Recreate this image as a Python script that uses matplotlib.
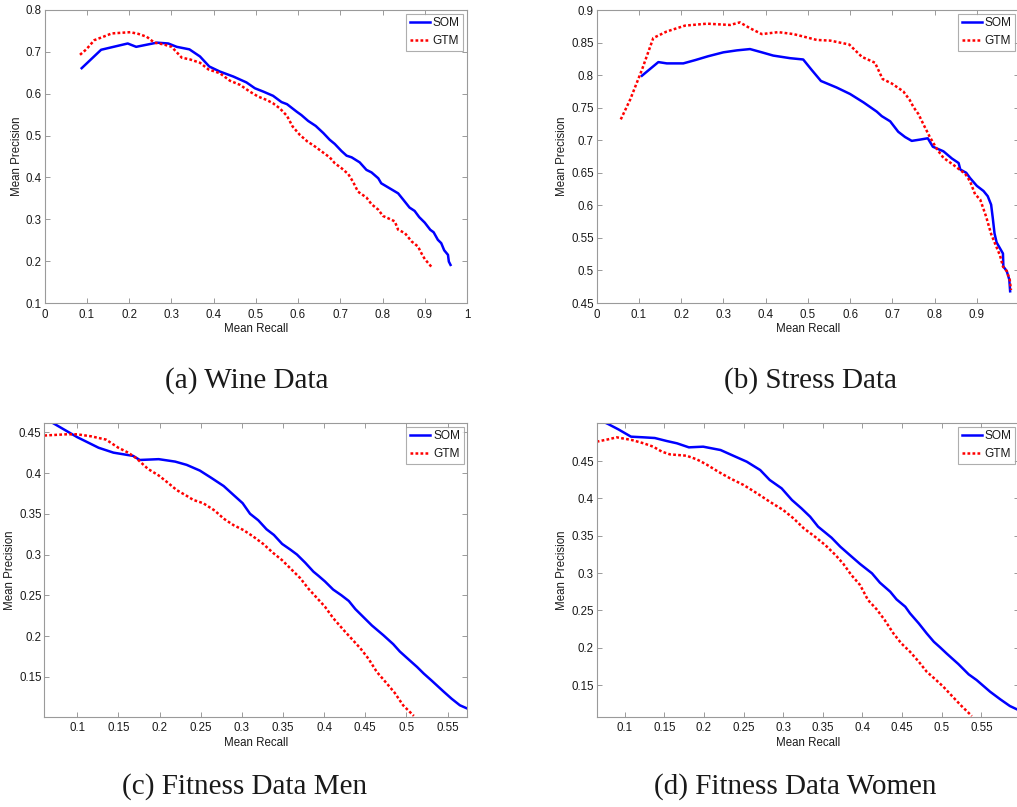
import matplotlib
matplotlib.use("Agg")
import matplotlib.pyplot as plt
from matplotlib.ticker import FuncFormatter
import numpy as np

# ---------------- data ----------------
# (a) Wine Data
wine_som_recall = [0.088, 0.134, 0.197, 0.217, 0.266, 0.293, 0.313, 0.343, 0.368, 0.390, 0.415, 0.447,
                   0.478, 0.498, 0.518, 0.541, 0.561, 0.574, 0.597, 0.608, 0.624, 0.642, 0.660, 0.675,
                   0.687, 0.703, 0.715, 0.727, 0.746, 0.762, 0.774, 0.790, 0.797, 0.817, 0.837, 0.849,
                   0.864, 0.876, 0.887, 0.900, 0.913, 0.921, 0.931, 0.939, 0.946, 0.955, 0.957, 0.961]
wine_som_prec = [0.661, 0.705, 0.720, 0.712, 0.722, 0.720, 0.712, 0.706, 0.689, 0.665, 0.653, 0.641,
                 0.627, 0.613, 0.605, 0.595, 0.580, 0.575, 0.557, 0.549, 0.535, 0.523, 0.506, 0.490,
                 0.480, 0.463, 0.452, 0.448, 0.436, 0.418, 0.412, 0.398, 0.386, 0.374, 0.362, 0.347,
                 0.328, 0.320, 0.305, 0.292, 0.275, 0.269, 0.251, 0.243, 0.226, 0.215, 0.199, 0.191]
wine_gtm_recall = [0.084, 0.099, 0.118, 0.139, 0.159, 0.203, 0.222, 0.242, 0.260, 0.281, 0.301, 0.325,
                   0.344, 0.368, 0.388, 0.415, 0.439, 0.463, 0.486, 0.506, 0.526, 0.541, 0.557, 0.574,
                   0.587, 0.604, 0.622, 0.640, 0.656, 0.675, 0.687, 0.703, 0.719, 0.730, 0.742, 0.762,
                   0.774, 0.790, 0.801, 0.821, 0.829, 0.837, 0.853, 0.869, 0.884, 0.892, 0.900, 0.917]
wine_gtm_prec = [0.693, 0.706, 0.728, 0.736, 0.744, 0.747, 0.743, 0.736, 0.722, 0.718, 0.712, 0.686,
                 0.682, 0.674, 0.658, 0.649, 0.631, 0.621, 0.605, 0.593, 0.585, 0.577, 0.565, 0.547,
                 0.522, 0.502, 0.486, 0.474, 0.462, 0.448, 0.434, 0.422, 0.408, 0.390, 0.366, 0.352,
                 0.336, 0.323, 0.308, 0.299, 0.295, 0.275, 0.267, 0.247, 0.235, 0.219, 0.205, 0.185]

# (b) Stress Data
stress_som_recall = [0.107, 0.146, 0.166, 0.205, 0.233, 0.264, 0.300, 0.332, 0.363, 0.391, 0.418, 0.458,
                     0.489, 0.509, 0.531, 0.568, 0.600, 0.632, 0.663, 0.675, 0.695, 0.714, 0.730, 0.746,
                     0.766, 0.784, 0.796, 0.821, 0.841, 0.857, 0.861, 0.875, 0.884, 0.900, 0.916, 0.926,
                     0.934, 0.938, 0.942, 0.947, 0.962, 0.963, 0.971, 0.977, 0.979]
stress_som_prec = [0.799, 0.820, 0.818, 0.818, 0.823, 0.829, 0.835, 0.838, 0.840, 0.835, 0.830, 0.826,
                   0.824, 0.808, 0.791, 0.781, 0.771, 0.758, 0.744, 0.737, 0.729, 0.713, 0.705, 0.699,
                   0.701, 0.703, 0.690, 0.683, 0.672, 0.665, 0.655, 0.650, 0.642, 0.630, 0.622, 0.614,
                   0.601, 0.580, 0.557, 0.543, 0.526, 0.506, 0.499, 0.486, 0.468]
stress_gtm_recall = [0.057, 0.079, 0.107, 0.134, 0.166, 0.209, 0.261, 0.316, 0.339, 0.363, 0.391, 0.430,
                     0.466, 0.497, 0.521, 0.553, 0.598, 0.628, 0.659, 0.677, 0.699, 0.726, 0.741, 0.750,
                     0.762, 0.774, 0.788, 0.806, 0.821, 0.845, 0.865, 0.872, 0.884, 0.896, 0.908, 0.922,
                     0.934, 0.946, 0.955, 0.962, 0.971, 0.978, 0.981]
stress_gtm_prec = [0.732, 0.762, 0.808, 0.857, 0.867, 0.876, 0.879, 0.877, 0.881, 0.872, 0.863, 0.866,
                   0.863, 0.858, 0.854, 0.853, 0.847, 0.828, 0.819, 0.794, 0.787, 0.775, 0.762, 0.751,
                   0.740, 0.724, 0.706, 0.686, 0.673, 0.662, 0.652, 0.649, 0.637, 0.617, 0.609, 0.583,
                   0.556, 0.537, 0.523, 0.506, 0.499, 0.486, 0.470]

# (c) Fitness Data Men
men_som_recall = [0.060, 0.071, 0.100, 0.126, 0.144, 0.168, 0.176, 0.199, 0.219, 0.233, 0.249, 0.263,
                  0.278, 0.290, 0.301, 0.310, 0.320, 0.330, 0.339, 0.349, 0.359, 0.367, 0.377, 0.387,
                  0.393, 0.401, 0.411, 0.421, 0.430, 0.438, 0.448, 0.458, 0.472, 0.484, 0.492, 0.503,
                  0.513, 0.521, 0.531, 0.545, 0.555, 0.565, 0.574]
men_som_prec = [0.467, 0.461, 0.444, 0.431, 0.425, 0.421, 0.416, 0.417, 0.414, 0.410, 0.403, 0.394,
                0.384, 0.373, 0.363, 0.350, 0.342, 0.331, 0.324, 0.313, 0.306, 0.300, 0.290, 0.279,
                0.274, 0.267, 0.257, 0.250, 0.243, 0.233, 0.223, 0.213, 0.201, 0.190, 0.181, 0.171,
                0.162, 0.154, 0.145, 0.132, 0.123, 0.115, 0.111]
men_gtm_recall = [0.060, 0.087, 0.100, 0.117, 0.135, 0.150, 0.162, 0.172, 0.186, 0.199, 0.209, 0.221,
                  0.233, 0.241, 0.253, 0.267, 0.278, 0.290, 0.302, 0.314, 0.326, 0.338, 0.349, 0.359,
                  0.371, 0.381, 0.391, 0.401, 0.411, 0.424, 0.434, 0.444, 0.454, 0.464, 0.476, 0.486,
                  0.496, 0.509]
men_gtm_prec = [0.446, 0.4475, 0.4475, 0.445, 0.441, 0.431, 0.425, 0.418, 0.405, 0.397, 0.389, 0.379,
                0.372, 0.367, 0.363, 0.354, 0.344, 0.336, 0.330, 0.322, 0.313, 0.302, 0.293, 0.283,
                0.271, 0.258, 0.247, 0.236, 0.222, 0.207, 0.196, 0.185, 0.172, 0.156, 0.142, 0.130,
                0.115, 0.102]

# (d) Fitness Data Women
women_som_recall = [0.064, 0.079, 0.092, 0.108, 0.124, 0.138, 0.153, 0.166, 0.181, 0.199, 0.221, 0.237,
                    0.254, 0.271, 0.283, 0.298, 0.311, 0.323, 0.334, 0.344, 0.361, 0.372, 0.384, 0.397,
                    0.412, 0.422, 0.435, 0.443, 0.454, 0.460, 0.471, 0.481, 0.490, 0.498, 0.506, 0.513,
                    0.521, 0.534, 0.544, 0.561, 0.574, 0.586, 0.595]
women_som_prec = [0.507, 0.4996, 0.4924, 0.4826, 0.4817, 0.4808, 0.4768, 0.4737, 0.4683, 0.4692, 0.4647,
                  0.4571, 0.4491, 0.4379, 0.4246, 0.4134, 0.3978, 0.3866, 0.3754, 0.3621, 0.3473, 0.3353,
                  0.3241, 0.3121, 0.2996, 0.2871, 0.2750, 0.2647, 0.2549, 0.2460, 0.2326, 0.2192, 0.2080,
                  0.2004, 0.1924, 0.1857, 0.1781, 0.1643, 0.1567, 0.1411, 0.1308, 0.1219, 0.1174]
women_gtm_recall = [0.0647, 0.079, 0.090, 0.109, 0.124, 0.136, 0.147, 0.157, 0.178, 0.191, 0.203, 0.218,
                    0.233, 0.250, 0.267, 0.283, 0.300, 0.313, 0.326, 0.340, 0.353, 0.366, 0.376, 0.386,
                    0.397, 0.407, 0.418, 0.428, 0.439, 0.449, 0.460, 0.471, 0.481, 0.492, 0.502, 0.513,
                    0.525, 0.538]
women_gtm_prec = [0.4759, 0.479, 0.4817, 0.4781, 0.4737, 0.4692, 0.4625, 0.4589, 0.4571, 0.4522, 0.4455,
                  0.4357, 0.4268, 0.4179, 0.4067, 0.3955, 0.3844, 0.3732, 0.3598, 0.3487, 0.3375, 0.3241,
                  0.3121, 0.2973, 0.2839, 0.2638, 0.2513, 0.2371, 0.2192, 0.2058, 0.1946, 0.1813, 0.1679,
                  0.1576, 0.1478, 0.1353, 0.1219, 0.1085]

captions = ["(a) Wine Data", "(b) Stress Data", "(c) Fitness Data Men", "(d) Fitness Data Women"]
series_labels = ["SOM", "GTM"]

# ---------------- figure ----------------
W, H = 1017, 807
fig = plt.figure(figsize=(W / 100, H / 100), dpi=100)
plt.rcParams['font.family'] = ['Liberation Sans', 'DejaVu Sans']

def px_axes(left, right, top, bottom):
    return fig.add_axes([left / W, 1 - bottom / H, (right - left) / W, (bottom - top) / H])

panels = [
    dict(box=(44.5, 467, 10, 303), som=(wine_som_recall, wine_som_prec), gtm=(wine_gtm_recall, wine_gtm_prec),
         xlim=(0, 1), ylim=(0.1, 0.8), xticks=np.arange(0, 1.01, 0.1), yticks=np.arange(0.1, 0.81, 0.1),
         ylab_x=-0.065),
    dict(box=(596.7, 1019, 10, 303), som=(stress_som_recall, stress_som_prec), gtm=(stress_gtm_recall, stress_gtm_prec),
         xlim=(0, 1.0), ylim=(0.45, 0.9), xticks=np.arange(0, 0.91, 0.1), yticks=np.arange(0.45, 0.901, 0.05),
         ylab_x=-0.0815),
    dict(box=(44.3, 467.3, 423.3, 716.7), som=(men_som_recall, men_som_prec), gtm=(men_gtm_recall, men_gtm_prec),
         xlim=(0.06, 0.574), ylim=(0.101, 0.461), xticks=np.arange(0.1, 0.551, 0.05), yticks=np.arange(0.15, 0.451, 0.05),
         ylab_x=-0.080),
    dict(box=(596.7, 1019, 423.3, 716.7), som=(women_som_recall, women_som_prec), gtm=(women_gtm_recall, women_gtm_prec),
         xlim=(0.0647, 0.5975), ylim=(0.1076, 0.5005), xticks=np.arange(0.1, 0.551, 0.05), yticks=np.arange(0.15, 0.451, 0.05),
         ylab_x=-0.0815),
]

fmt = FuncFormatter(lambda v, p: ('%g' % round(v, 3)))
spine_col = '#9a9a9a'
text_col = '#1a1a1a'

for p in panels:
    ax = px_axes(*p['box'])
    ax.plot(*p['som'], color='#0000ff', lw=1.8, ls='-', label=series_labels[0])
    ax.plot(*p['gtm'], color='#ff0000', lw=1.8, ls=(0, (1.1, 0.9)), label=series_labels[1])
    ax.set_xlim(*p['xlim'])
    ax.set_ylim(*p['ylim'])
    ax.set_xticks(p['xticks'])
    ax.set_yticks(p['yticks'])
    ax.xaxis.set_major_formatter(fmt)
    ax.yaxis.set_major_formatter(fmt)
    ax.tick_params(direction='in', length=3.5, width=0.7, color=spine_col, labelcolor=text_col,
                   labelsize=8.3, top=True, right=True)
    ax.tick_params(axis='x', pad=4)
    ax.tick_params(axis='y', pad=2)
    for s in ax.spines.values():
        s.set_color(spine_col)
        s.set_linewidth(0.8)
    ax.set_xlabel('Mean Recall', fontsize=8.3, color=text_col, labelpad=2)
    ax.set_ylabel('Mean Precision', fontsize=8.3, color=text_col, va='center')
    ax.yaxis.set_label_coords(p['ylab_x'], 0.5)
    leg = ax.legend(loc='upper right', fontsize=8.6, frameon=True, fancybox=False,
                    borderaxespad=0.3, handlelength=1.7, handletextpad=0.25, borderpad=0.3,
                    labelspacing=0.5)
    leg.get_frame().set_edgecolor(spine_col)
    leg.get_frame().set_linewidth(0.8)
    for t in leg.get_texts():
        t.set_color(text_col)

cap_font = dict(family=['Liberation Serif', 'DejaVu Serif'], fontsize=21, color=text_col,
                ha='center', va='center')
fig.text(247 / W, 1 - 381 / H, captions[0], **cap_font)
fig.text(811 / W, 1 - 381 / H, captions[1], **cap_font)
fig.text(245 / W, 1 - 787 / H, captions[2], **cap_font)
fig.text(795 / W, 1 - 787 / H, captions[3], **cap_font)

fig.savefig('out.png', dpi=100)
